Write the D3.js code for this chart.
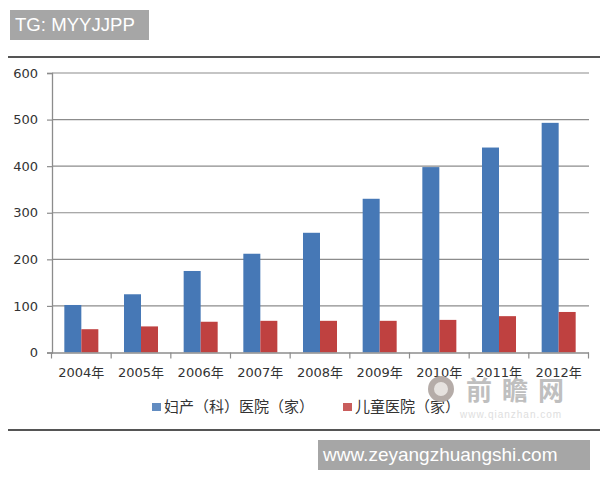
<!DOCTYPE html>
<html>
<head>
<meta charset="utf-8">
<script src="https://cdn.jsdelivr.net/npm/d3@7/dist/d3.min.js"></script>
<style>
  html, body { margin: 0; padding: 0; background: #fff; }
  svg { display: block; }
</style>
</head>
<body>
<div id="chart"></div>
<script>
const years = ["2004年", "2005年", "2006年", "2007年", "2008年", "2009年", "2010年", "2011年", "2012年"];
const maternity = [102, 125, 175, 212, 257, 330, 398, 440, 493];
const children = [50, 56, 66, 68, 68, 68, 70, 78, 87];
const yTicks = [0, 100, 200, 300, 400, 500, 600];
const seriesNames = ["妇产（科）医院（家）", "儿童医院（家）"];
const seriesColors = ["#4678b6", "#bf4140"];

const width = 600, height = 480;
const cjk = "'Noto Sans CJK SC', 'DejaVu Sans', sans-serif";
const tickFont = "'DejaVu Sans', 'Noto Sans CJK SC', sans-serif";
const axisColor = "#8c8c8c";

const svg = d3.select("#chart").append("svg")
    .attr("width", width)
    .attr("height", height);

// x and y
const x = d3.scaleBand().domain(years).range([51.5, 588.5]).paddingInner(0.43).paddingOuter(0.215);
const xInner = d3.scaleBand().domain([0, 1]).range([0, x.bandwidth()]);
const y = d3.scaleLinear().domain([0, 600]).range([352.5, 73]);

// horizontal rules above and below the chart
[57, 430].forEach(ry => {
    svg.append("line")
        .attr("x1", 8).attr("x2", 600)
        .attr("y1", ry).attr("y2", ry)
        .style("stroke", "#555")
        .style("stroke-width", 2);
});

// grid lines and y labels
const yAxis = svg.append("g")
    .attr("transform", "translate(52,0)")
    .call(d3.axisLeft(y).tickValues(yTicks).tickSizeOuter(0).tickSize(5).tickPadding(9));
yAxis.select(".domain").style("stroke", axisColor).style("stroke-width", 1.3);
yAxis.selectAll("line").style("stroke", axisColor).style("stroke-width", 1.2);
yAxis.selectAll("text").style("font-family", tickFont).style("font-size", "13px").style("fill", "#333");

svg.append("g").selectAll("line")
    .data(yTicks.filter(d => d > 0))
    .enter().append("line")
    .attr("x1", 52).attr("x2", 589)
    .attr("y1", d => y(d)).attr("y2", d => y(d))
    .style("stroke", axisColor)
    .style("stroke-width", 1.2);

// bars
const groups = svg.append("g").selectAll("g")
    .data(years)
    .enter().append("g")
    .attr("transform", d => `translate(${x(d)},0)`);

[maternity, children].forEach((values, s) => {
    groups.append("rect")
        .attr("x", xInner(s))
        .attr("y", (d, i) => y(values[i]))
        .attr("width", xInner.bandwidth())
        .attr("height", (d, i) => y(0) - y(values[i]))
        .style("fill", seriesColors[s]);
});

// x axis
const xAxis = svg.append("g")
    .attr("transform", `translate(0,${y(0)})`)
    .call(d3.axisBottom(x).tickSize(0).tickPadding(15));
xAxis.select(".domain").style("stroke", axisColor).style("stroke-width", 1.3);
xAxis.selectAll("text").style("font-family", tickFont).style("font-size", "13px").style("fill", "#333");

// tick marks sit between the categories
svg.append("g").selectAll("line")
    .data(d3.range(years.length + 1))
    .enter().append("line")
    .attr("x1", d => x.range()[0] + d * x.step())
    .attr("x2", d => x.range()[0] + d * x.step())
    .attr("y1", y(0)).attr("y2", y(0) + 6)
    .style("stroke", axisColor)
    .style("stroke-width", 1.2);

// legend
const legendX = [152, 343];
seriesNames.forEach((name, s) => {
    svg.append("rect")
        .attr("x", legendX[s]).attr("y", 403)
        .attr("width", 9).attr("height", 8)
        .style("fill", seriesColors[s])
        .style("opacity", 0.85);
    svg.append("text")
        .attr("x", legendX[s] + 12).attr("y", 408)
        .attr("dominant-baseline", "middle")
        .style("font-family", cjk)
        .style("font-size", "15px")
        .style("fill", "#333")
        .text(name);
});

// source watermark
const mark = svg.append("g");
mark.append("circle")
    .attr("cx", 441).attr("cy", 389).attr("r", 10)
    .style("fill", "#e6e2df")
    .style("stroke", "#b5aca8")
    .style("stroke-width", 6);
mark.append("text")
    .attr("x", 466).attr("y", 400)
    .style("font-family", cjk)
    .style("font-weight", "bold")
    .style("font-size", "26px")
    .style("letter-spacing", "10px")
    .style("fill", "#b4b4b4")
    .style("opacity", 0.85)
    .text("前瞻网");
mark.append("text")
    .attr("x", 460).attr("y", 418)
    .style("font-family", "'Liberation Sans', sans-serif")
    .style("font-size", "10px")
    .style("letter-spacing", "1px")
    .style("fill", "#dedede")
    .text("www.qianzhan.com");

// grey caption boxes
const captions = [
    { text: "TG: MYYJJPP", x: 10, y: 10, w: 139, h: 30, size: 18.6 },
    { text: "www.zeyangzhuangshi.com", x: 318, y: 440, w: 272, h: 30, size: 19 }
];
captions.forEach(c => {
    svg.append("rect")
        .attr("x", c.x).attr("y", c.y)
        .attr("width", c.w).attr("height", c.h)
        .style("fill", "#a6a6a6");
    svg.append("text")
        .attr("x", c.x + 5).attr("y", c.y + c.h / 2 + 1)
        .attr("dominant-baseline", "middle")
        .style("font-family", "'Liberation Sans', Arial, sans-serif")
        .style("font-size", c.size + "px")
        .style("fill", "#fff")
        .text(c.text);
});
</script>
</body>
</html>
